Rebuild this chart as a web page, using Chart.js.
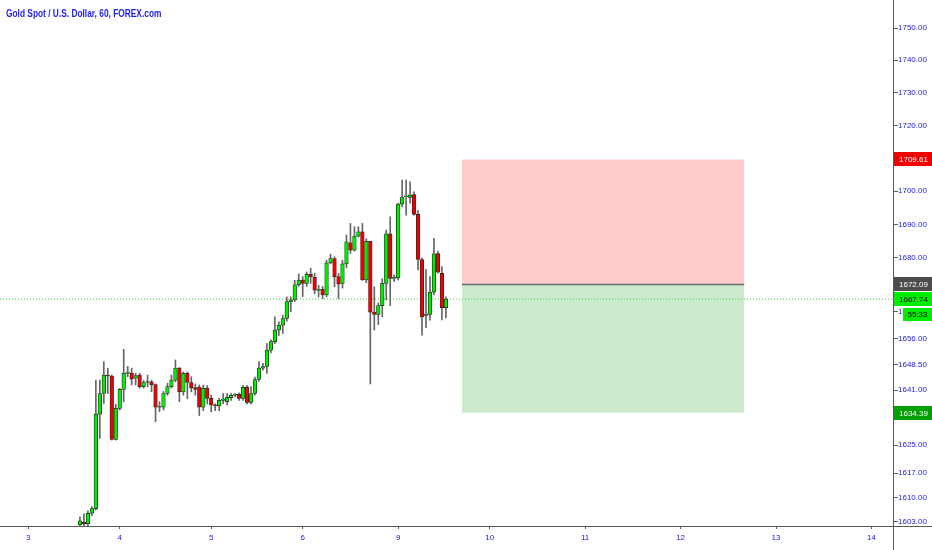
<!DOCTYPE html>
<html lang="en">
<head>
<meta charset="UTF-8" />
<title>Gold Spot / U.S. Dollar, 60, FOREX.com</title>
<script src="https://cdn.jsdelivr.net/npm/chart.js"></script>
<style>
  html, body { margin: 0; padding: 0; background: #fff; }
  #wrap { position: relative; width: 932px; height: 550px; }
  canvas { display: block; }
  #title {
    position: absolute; left: 6px; top: 8px;
    font: bold 10px "Liberation Sans", Arial, sans-serif; line-height: 12px;
    color: #1f1fe6; white-space: nowrap;
    transform: scaleX(0.835); transform-origin: 0 0;
  }
</style>
</head>
<body>
<div id="wrap">
  <canvas id="chart" width="932" height="550"></canvas>
  <div id="title">Gold Spot / U.S. Dollar, 60, FOREX.com</div>
</div>
<script>
// hourly candles
const opens = [1602.2,1603.0,1602.5,1605.5,1606.8,1634.0,1640.0,1645.4,1645.1,1626.7,
  1635.7,1641.2,1645.9,1646.0,1644.5,1645.4,1642.0,1643.2,1643.4,1642.6,
  1636.0,1636.0,1640.0,1642.0,1643.9,1647.4,1640.5,1645.9,1643.2,1641.7,
  1641.9,1636.0,1641.5,1638.6,1636.6,1636.4,1638.0,1637.6,1638.8,1639.5,
  1639.8,1638.6,1641.8,1637.4,1640.0,1644.1,1647.4,1647.9,1652.7,1655.2,
  1658.6,1660.0,1662.0,1667.0,1667.5,1672.0,1673.4,1672.4,1675.1,1674.2,
  1670.3,1670.6,1669.0,1678.5,1679.8,1674.4,1672.4,1678.2,1684.5,1682.3,
  1686.5,1687.8,1673.4,1684.9,1663.9,1663.2,1665.8,1672.4,1687.2,1673.9,
  1674.0,1696.1,1698.3,1698.1,1699.0,1693.0,1679.5,1662.9,1663.2,1669.8,
  1681.3,1675.4,1665.2];
const highs = [1604.5,1605.3,1606.2,1607.4,1643.9,1643.9,1649.3,1647.4,1645.4,1636.9,
  1641.5,1652.9,1647.9,1647.4,1645.9,1645.9,1643.8,1645.4,1643.9,1642.8,
  1637.6,1640.6,1643.0,1645.4,1649.8,1647.6,1646.3,1646.3,1644.9,1642.8,
  1642.5,1642.5,1642.3,1639.5,1637.0,1638.6,1640.0,1640.0,1640.0,1640.0,
  1640.2,1642.4,1642.4,1642.0,1644.8,1649.3,1648.8,1654.6,1655.7,1662.5,
  1661.0,1663.0,1668.4,1668.4,1673.3,1675.2,1674.4,1675.8,1676.9,1675.4,
  1671.8,1671.5,1679.3,1681.1,1680.3,1675.4,1679.3,1686.8,1690.3,1689.3,
  1689.3,1690.3,1685.7,1684.9,1671.4,1666.6,1673.8,1688.3,1692.3,1674.9,
  1696.4,1703.4,1703.4,1702.8,1699.8,1694.2,1680.0,1676.6,1674.4,1685.8,
  1682.0,1677.4,1668.4];
const lows = [1601.5,1601.8,1601.8,1604.8,1606.4,1627.0,1637.1,1640.0,1626.5,1626.5,
  1635.2,1637.6,1644.9,1642.5,1642.5,1641.6,1641.6,1642.0,1640.5,1631.8,
  1634.7,1635.2,1639.5,1641.6,1643.4,1637.6,1639.5,1638.5,1640.5,1639.5,
  1633.6,1635.0,1637.0,1634.7,1635.0,1635.0,1637.0,1636.7,1638.0,1639.0,
  1638.0,1638.0,1637.0,1637.0,1639.5,1643.5,1646.8,1645.9,1651.9,1654.6,
  1657.0,1657.6,1661.2,1664.0,1667.0,1671.5,1668.5,1671.5,1672.4,1669.3,
  1668.4,1667.9,1668.4,1678.2,1671.4,1667.9,1671.0,1677.0,1681.3,1682.0,
  1686.2,1673.3,1672.6,1642.8,1658.6,1660.2,1662.5,1667.5,1665.8,1672.9,
  1673.4,1695.3,1692.8,1696.4,1692.8,1676.4,1657.1,1659.3,1661.5,1669.0,
  1675.4,1661.6,1662.2];
const closes = [1603.3,1602.5,1605.5,1606.8,1634.0,1640.0,1645.4,1645.1,1626.7,1635.7,
  1641.2,1645.9,1646.0,1644.2,1645.2,1642.0,1643.2,1643.3,1642.5,1636.0,
  1636.1,1640.0,1642.0,1643.9,1647.4,1640.5,1645.9,1643.2,1641.7,1641.2,
  1636.0,1641.5,1638.6,1636.7,1636.4,1638.0,1638.4,1638.9,1639.5,1639.6,
  1638.6,1641.8,1637.4,1640.0,1644.1,1647.4,1647.9,1652.7,1655.2,1658.6,
  1660.0,1662.0,1667.0,1667.5,1672.0,1673.4,1672.4,1675.1,1674.4,1670.4,
  1670.6,1669.0,1678.5,1679.8,1674.4,1672.2,1678.2,1684.8,1682.3,1686.5,
  1687.8,1673.4,1684.9,1663.9,1663.2,1665.8,1672.4,1687.2,1673.9,1674.0,
  1696.1,1698.1,1698.5,1698.8,1693.0,1679.5,1662.5,1663.3,1669.8,1681.2,
  1675.7,1665.2,1667.74];

// day ticks are given in bar numbers
const dayTicks = [-13, 10, 33, 56, 80, 103, 127, 151, 175, 199];
const dayLabels = ['3', '4', '5', '6', '9', '10', '11', '12', '13', '14'];
const priceTicks = [1603, 1610, 1617, 1625, 1633, 1641, 1648.5, 1656, 1664, 1672,
  1680, 1690, 1700, 1710, 1720, 1730, 1740, 1750];

// long position tool
const positionFrom = 96, positionTo = 167;
const entryPrice = 1672.09, targetPrice = 1709.61, stopPrice = 1634.39;
const lastPrice = 1667.74;
const countdown = '55:33';

const xMin = -20.1, xMax = 204.4;
const yMin = 1601.86, yMax = 1758.73;

const UP = '#00ee00', DOWN = '#f20000', EDGE = '#262626', WICK = '#666666';
const BLUE = '#2020e0', AXIS = '#5a5a5a';
const FONT = '"Liberation Sans", Arial, sans-serif';

const idx = opens.map((_, i) => i);

const tags = [
  { price: targetPrice, bg: '#f00000', fg: '#ffffff' },
  { price: entryPrice, bg: '#4d4d4d', fg: '#ffffff' },
  { price: lastPrice, bg: '#00ee00', fg: '#000000' },
  { price: stopPrice, bg: '#00a000', fg: '#ffffff' }
];

// axis lines that run to the canvas edges, price tags and the bar countdown
const frame = {
  id: 'frame',
  afterDraw(chart) {
    const { ctx, chartArea: a, scales: { y } } = chart;
    ctx.save();
    ctx.strokeStyle = AXIS;
    ctx.lineWidth = 1;
    ctx.beginPath();
    ctx.moveTo(a.right + 0.5, 0); ctx.lineTo(a.right + 0.5, chart.height);
    ctx.moveTo(0, a.bottom + 0.5); ctx.lineTo(chart.width, a.bottom + 0.5);
    ctx.stroke();

    ctx.font = '8px ' + FONT;
    ctx.textBaseline = 'middle';
    tags.forEach(t => {
      const py = Math.round(y.getPixelForValue(t.price));
      ctx.fillStyle = t.bg;
      ctx.fillRect(a.right + 1, py - 7, chart.width - a.right - 1, 14);
      ctx.fillStyle = t.fg;
      ctx.fillText(t.price.toFixed(2), a.right + 6, py + 0.5);
    });

    const cy = Math.round(y.getPixelForValue(lastPrice)) + 15;
    ctx.fillStyle = '#00ee00';
    ctx.fillRect(a.right + 10, cy - 6, chart.width - a.right - 10, 13);
    ctx.fillStyle = '#000';
    ctx.textAlign = 'center';
    ctx.fillText(countdown, (a.right + 10 + chart.width) / 2, cy + 0.5);
    ctx.restore();
  }
};

new Chart(document.getElementById('chart'), {
  type: 'bar',
  data: {
    datasets: [
      {
        label: 'body',
        data: idx.map(i => ({ x: i, y: [opens[i], closes[i]] })),
        backgroundColor: idx.map(i => closes[i] >= opens[i] ? UP : DOWN),
        borderColor: EDGE,
        borderWidth: 0.75,
        borderSkipped: false,
        barThickness: 3.6,
        minBarLength: 1,
        grouped: false,
        order: 0
      },
      {
        label: 'wick',
        data: idx.map(i => ({ x: i, y: [lows[i], highs[i]] })),
        backgroundColor: WICK,
        barThickness: 1,
        grouped: false,
        order: 1
      },
      {
        type: 'line',
        label: 'last',
        data: [{ x: xMin, y: lastPrice }, { x: xMax, y: lastPrice }],
        borderColor: '#3ad13a',
        borderWidth: 1,
        borderDash: [1, 2],
        pointRadius: 0,
        order: 2
      },
      {
        type: 'line',
        label: 'entry',
        data: [{ x: positionFrom, y: entryPrice }, { x: positionTo, y: entryPrice }],
        borderColor: '#6b6b6b',
        borderWidth: 1.5,
        pointRadius: 0,
        order: 3
      },
      {
        type: 'line',
        label: 'target',
        data: [{ x: positionFrom, y: targetPrice }, { x: positionTo, y: targetPrice }],
        borderColor: 'transparent',
        borderWidth: 1,
        pointRadius: 0,
        fill: { value: entryPrice },
        backgroundColor: 'rgba(255,0,0,0.2)',
        order: 4
      },
      {
        type: 'line',
        label: 'stop',
        data: [{ x: positionFrom, y: stopPrice }, { x: positionTo, y: stopPrice }],
        borderColor: 'transparent',
        borderWidth: 1,
        pointRadius: 0,
        fill: { value: entryPrice },
        backgroundColor: 'rgba(0,155,0,0.2)',
        order: 4
      }
    ]
  },
  options: {
    responsive: false,
    animation: false,
    devicePixelRatio: 1,
    layout: { padding: 0 },
    plugins: {
      legend: { display: false },
      tooltip: { enabled: false }
    },
    scales: {
      x: {
        type: 'linear',
        min: xMin,
        max: xMax,
        offset: false,
        grid: { drawOnChartArea: false, drawTicks: true, tickLength: 3, tickColor: AXIS, offset: false },
        border: { display: true, color: AXIS },
        ticks: {
          autoSkip: false, maxRotation: 0, padding: 4, color: BLUE,
          font: { family: FONT, size: 8 },
          callback: (v, i) => dayLabels[i]
        },
        afterBuildTicks: s => { s.ticks = dayTicks.map(v => ({ value: v })); },
        afterFit: s => { s.height = 24; }
      },
      y: {
        type: 'logarithmic',
        position: 'right',
        min: yMin,
        max: yMax,
        grid: { drawOnChartArea: false, drawTicks: true, tickLength: 5, tickColor: AXIS },
        border: { display: true, color: AXIS },
        ticks: {
          autoSkip: false, padding: 0, color: BLUE,
          font: { family: FONT, size: 8, lineHeight: 0 },
          callback: v => Number(v).toFixed(2)
        },
        afterBuildTicks: s => { s.ticks = priceTicks.map(v => ({ value: v })); },
        afterFit: s => { s.width = 39; }
      }
    }
  },
  plugins: [frame]
});
</script>
</body>
</html>
